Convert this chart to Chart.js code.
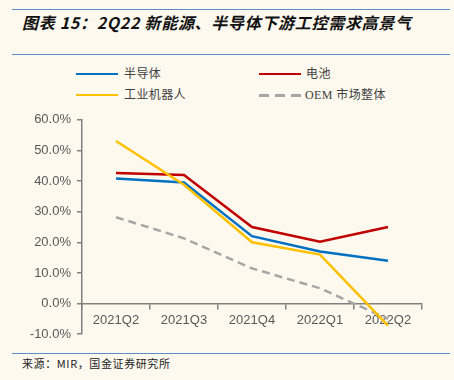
<!DOCTYPE html>
<html>
<head>
<meta charset="utf-8">
<script src="https://cdn.jsdelivr.net/npm/chart.js@4"></script>
<style>
  html, body { margin:0; padding:0; }
  body { width:454px; height:380px; background:#FDF9EF; position:relative; overflow:hidden;
         font-family:"Noto Sans CJK SC","Liberation Sans",sans-serif; }
  .rule { position:absolute; left:12px; width:438px; height:1px; background:#5B8FC9; }
  #title { position:absolute; left:22px; top:10px; font-size:16px; font-weight:bold; font-style:italic; color:#111; white-space:nowrap; letter-spacing:0.7px; }
  .lg { position:absolute; font-size:12px; color:#404040; white-space:nowrap; line-height:14px; letter-spacing:0.4px;
        font-family:"Liberation Serif","Noto Sans CJK SC",serif; }
  .sw { position:absolute; width:42px; height:0; }
  .dash { position:absolute; width:42px; height:3px;
          background:repeating-linear-gradient(to right, #A6A6A6 0, #A6A6A6 10px, transparent 10px, transparent 16px); }
  #footer { position:absolute; left:22px; top:355px; font-size:11px; color:#222; white-space:nowrap; letter-spacing:0.6px; }
  #wrap { position:absolute; left:0; top:106px; width:432px; height:242px; }
</style>
</head>
<body>
<div class="rule" style="top:9px"></div>
<div id="title">图表 15：2Q22 新能源、半导体下游工控需求高景气</div>
<div class="rule" style="top:54px"></div>

<div class="sw" style="left:76px; top:73px; border-top:2.5px solid #0070C0"></div>
<div class="lg" style="left:124px; top:67px">半导体</div>
<div class="sw" style="left:259px; top:73px; border-top:2.5px solid #C00000"></div>
<div class="lg" style="left:306px; top:67px">电池</div>
<div class="sw" style="left:76px; top:94px; border-top:2.5px solid #FFC000"></div>
<div class="lg" style="left:124px; top:88px">工业机器人</div>
<div class="dash" style="left:259px; top:94px"></div>
<div class="lg" style="left:305px; top:88px">OEM 市场整体</div>

<div id="wrap"><canvas id="c"></canvas></div>

<div class="rule" style="top:353px"></div>
<div id="footer">来源：MIR，国金证券研究所</div>

<script>
const categories = ['2021Q2', '2021Q3', '2021Q4', '2022Q1', '2022Q2'];
const semiconductor = [40.8, 39.5, 22.0, 17.0, 14.0];
const battery = [42.6, 42.0, 25.0, 20.2, 25.0];
const industrialRobot = [53.1, 38.8, 20.0, 16.0, -7.2];
const oemOverall = [28.2, 21.3, 11.5, 5.0, -5.0];
const yMin = -10, yMax = 60, yStep = 10;

const axisColor = '#808080';
const tickFont = { family: '"Liberation Sans", Arial, sans-serif', size: 13 };

new Chart(document.getElementById('c'), {
  type: 'line',
  data: {
    labels: categories,
    datasets: [
      { label: '工业机器人', data: industrialRobot, borderColor: '#FFC000', borderWidth: 2.5, order: 1 },
      { label: '电池', data: battery, borderColor: '#C00000', borderWidth: 2.5, order: 2 },
      { label: '半导体', data: semiconductor, borderColor: '#0070C0', borderWidth: 2.5, order: 3 },
      { label: 'OEM 市场整体', data: oemOverall, borderColor: '#A6A6A6', borderWidth: 2.5, borderDash: [8, 5], order: 4 }
    ]
  },
  options: {
    responsive: true,
    maintainAspectRatio: false,
    animation: false,
    elements: { point: { radius: 0 }, line: { tension: 0, fill: false, borderCapStyle: 'butt' } },
    layout: { padding: { top: 8, right: 10, bottom: 0, left: 0 } },
    plugins: { legend: { display: false }, tooltip: { enabled: false } },
    scales: {
      x: {
        position: { y: 0 },
        offset: true,
        grid: { offset: true, drawOnChartArea: false, drawTicks: true, tickLength: 5, color: axisColor, lineWidth: 1.5 },
        border: { display: true, color: axisColor, width: 1.5 },
        ticks: { color: '#595959', font: tickFont, padding: 4, maxRotation: 0 }
      },
      y: {
        min: yMin, max: yMax,
        afterFit: (s) => { s.width = 82; },
        grid: { drawOnChartArea: false, drawTicks: true, tickLength: 5, color: axisColor, lineWidth: 1.5 },
        border: { display: true, color: axisColor, width: 1.5 },
        ticks: { stepSize: yStep, color: '#595959', font: tickFont, padding: 6,
                 callback: (v) => v.toFixed(1) + '%' }
      }
    }
  }
});
</script>
</body>
</html>
